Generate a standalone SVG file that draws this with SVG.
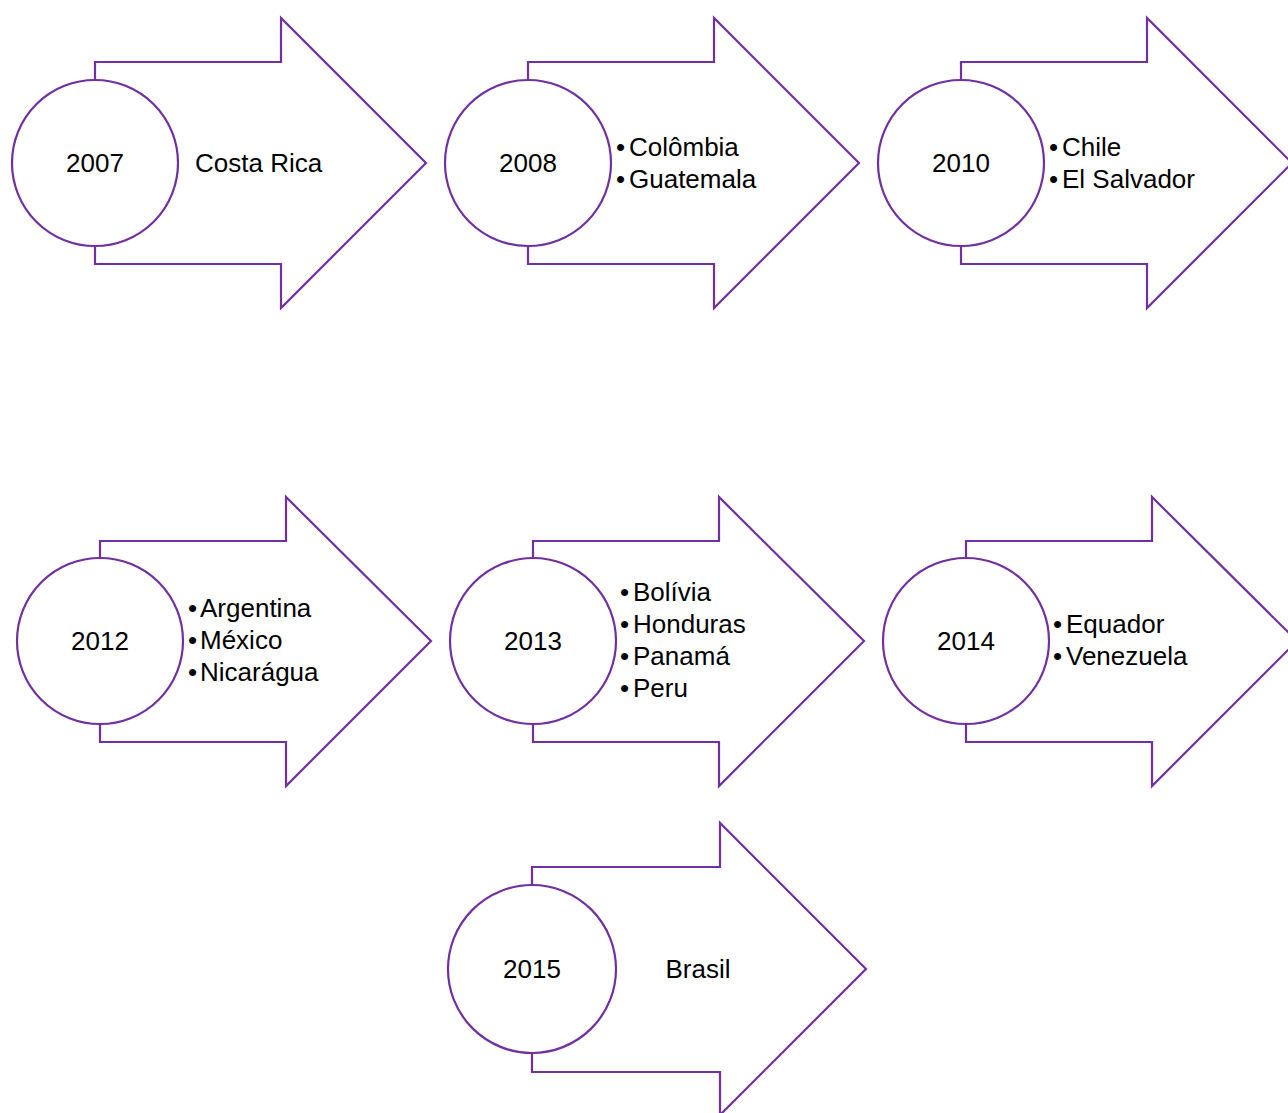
<svg xmlns="http://www.w3.org/2000/svg" width="1288" height="1113" viewBox="0 0 1288 1113">
<style>
.arrow{fill:#fff;stroke:#7030A0;stroke-width:2.2;stroke-linejoin:miter}
.circ{fill:#fff;stroke:#7030A0;stroke-width:2.2}
text{font-family:"Liberation Sans",Arial,sans-serif;font-size:26px;fill:#000}
.yr{text-anchor:middle}
</style>
<rect width="1288" height="1113" fill="#fff"/>
<g id="connectors"></g>
<g id="n2007">
<path class="arrow" d="M95,62 H281 V18 L426,163 L281,308 V264 H95 Z"/>
<circle class="circ" cx="95" cy="163" r="83"/>
<text class="yr" x="95" y="172">2007</text>
<text x="195" y="172">Costa Rica</text>
</g>
<g id="n2008">
<path class="arrow" d="M528,62 H714 V18 L859,163 L714,308 V264 H528 Z"/>
<circle class="circ" cx="528" cy="163" r="83"/>
<text class="yr" x="528" y="172">2008</text>
<text x="616" y="156">•</text><text x="629" y="156">Colômbia</text>
<text x="616" y="188">•</text><text x="629" y="188">Guatemala</text>
</g>
<g id="n2010">
<path class="arrow" d="M961,62 H1147 V18 L1292,163 L1147,308 V264 H961 Z"/>
<circle class="circ" cx="961" cy="163" r="83"/>
<text class="yr" x="961" y="172">2010</text>
<text x="1049" y="156">•</text><text x="1062" y="156">Chile</text>
<text x="1049" y="188">•</text><text x="1062" y="188">El Salvador</text>
</g>
<g id="n2012">
<path class="arrow" d="M100,541 H286 V497 L431,641 L286,786 V742 H100 Z"/>
<circle class="circ" cx="100" cy="641" r="83"/>
<text class="yr" x="100" y="650">2012</text>
<text x="188" y="617">•</text><text x="200" y="617">Argentina</text>
<text x="188" y="649">•</text><text x="200" y="649">México</text>
<text x="188" y="681">•</text><text x="200" y="681">Nicarágua</text>
</g>
<g id="n2013">
<path class="arrow" d="M533,541 H719 V497 L864,641 L719,786 V742 H533 Z"/>
<circle class="circ" cx="533" cy="641" r="83"/>
<text class="yr" x="533" y="650">2013</text>
<text x="620" y="601">•</text><text x="633" y="601">Bolívia</text>
<text x="620" y="633">•</text><text x="633" y="633">Honduras</text>
<text x="620" y="665">•</text><text x="633" y="665">Panamá</text>
<text x="620" y="697">•</text><text x="633" y="697">Peru</text>
</g>
<g id="n2014">
<path class="arrow" d="M966,541 H1152 V497 L1297,641 L1152,786 V742 H966 Z"/>
<circle class="circ" cx="966" cy="641" r="83"/>
<text class="yr" x="966" y="650">2014</text>
<text x="1053" y="633">•</text><text x="1066" y="633">Equador</text>
<text x="1053" y="665">•</text><text x="1066" y="665">Venezuela</text>
</g>
<g id="n2015">
<path class="arrow" d="M532,867 H720 V823 L866,969 L720,1115 V1072 H532 Z"/>
<circle class="circ" cx="532" cy="969" r="84"/>
<text class="yr" x="532" y="978">2015</text>
<text class="yr" x="698" y="978">Brasil</text>
</g>
</svg>
